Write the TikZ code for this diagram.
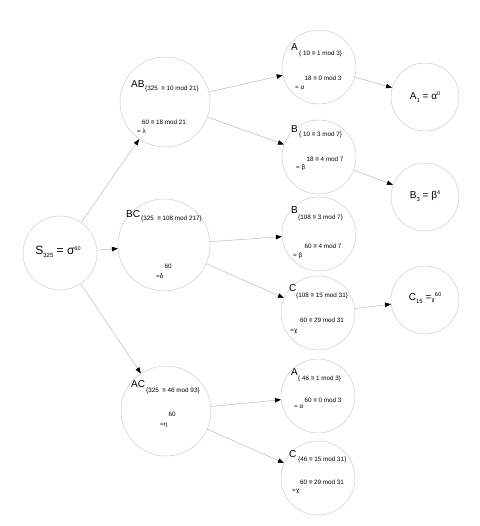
\documentclass[tikz,border=0pt]{standalone}
\usepackage{fontspec}
\setmainfont{Liberation Sans}
\newfontfamily\dvfont{DejaVu Sans}
\usetikzlibrary{arrows.meta}
\definecolor{circgray}{HTML}{CCCCCC}
\definecolor{linegray}{HTML}{BBBBBB}
\newcommand{\sbx}[1]{\raisebox{-2.5pt}{\fontsize{6}{6}\selectfont #1}}
\newcommand{\spx}[1]{\raisebox{4pt}{\fontsize{5.5}{5.5}\selectfont #1}}
\begin{document}
\begin{tikzpicture}[x=1pt,y=-1pt,
  circ/.style={circle,draw=circgray,line width=0.5pt,inner sep=0pt,minimum size=#1},
  edge/.style={draw=linegray,line width=0.5pt,-{Triangle[length=6pt,width=4.5pt,color=black]}},
  big/.style={font=\fontsize{10}{10}\selectfont,inner sep=0pt,anchor=west},
  sub/.style={font=\fontsize{6.3}{7}\selectfont,inner sep=0pt,anchor=west},
  small/.style={font=\fontsize{6.3}{7}\selectfont,inner sep=0pt},
  lbl/.style={font=\fontsize{11}{11}\selectfont,inner sep=0pt},
]
\useasboundingbox (0,0) rectangle (479,526);
% circles
\node[circ=74pt] (S) at (60,253) {};
\node[circ=90pt] (AB) at (165,102) {};
\node[circ=92pt] (BC) at (164,245) {};
\node[circ=90pt] (AC) at (166,411) {};
\node[circ=74pt] (A1) at (319,67) {};
\node[circ=74pt] (B1) at (319,157) {};
\node[circ=74pt] (B2) at (319,234) {};
\node[circ=74pt] (C2) at (318,313) {};
\node[circ=74pt] (A3) at (318,396) {};
\node[circ=74pt] (C3) at (318,478) {};
\node[circ=68pt] (FA) at (425,97) {};
\node[circ=68pt] (FB) at (425,197) {};
\node[circ=68pt] (FC) at (425,300) {};
% edges
\draw[edge] (S) -- (AB);
\draw[edge] (S) -- (BC);
\draw[edge] (S) -- (AC);
\draw[edge] (AB) -- (A1);
\draw[edge] (AB) -- (B1);
\draw[edge] (BC) -- (B2);
\draw[edge] (BC) -- (C2);
\draw[edge] (AC) -- (A3);
\draw[edge] (AC) -- (C3);
\draw[edge] (A1) -- (FA);
\draw[edge] (B1) -- (FB);
\draw[edge] (C2) -- (FC);
% S text
\node[lbl,font=\fontsize{12}{12}\selectfont] (tS) at (58,252) {S\sbx{325} = σ\spx{60}};
% AB
\node[big] (tAB) at (131,84) {AB};
\node[sub] (sAB) at (145,89) {\{325 \ ≡ 10 mod 21\}};
\node[small] (lAB1) at (164,122) {60 ≡ 18 mod 21};
\node[small,anchor=west] (lAB2) at (137,131) {= λ};
% BC
\node[big] (tBC) at (126,214) {BC};
\node[sub] (sBC) at (141,219) {\{325 \ ≡ 108 mod 217\}};
\node[small] (lBC1) at (168,266) {60};
\node[small,anchor=west] (lBC2) at (156,276) {=δ};
% AC
\node[big] (tAC) at (131,384) {AC};
\node[sub] (sAC) at (146,391) {\{325 \ ≡ 46 mod 93\}};
\node[small] (lAC1) at (172,414) {60};
\node[small,anchor=west] (lAC2) at (160,425) {=η};
% A top
\node[big] (tA1) at (291,47) {A};
\node[sub] (sA1) at (299,54) {\{ 10 ≡ 1 mod 3\}};
\node[small] (lA11) at (323,78) {18 ≡ 0 mod 3};
\node[small,anchor=west] (lA12) at (295,88) {= α};
% B top
\node[big] (tB1) at (291,129) {B};
\node[sub] (sB1) at (299,135) {\{ 10 ≡ 3 mod 7\}};
\node[small] (lB11) at (325,159) {18 ≡ 4 mod 7};
\node[small,anchor=west] (lB12) at (296,168) {= β};
% B of BC
\node[big] (tB2) at (291,210) {B};
\node[sub] (sB2) at (298,218) {\{108 ≡ 3 mod 7\}};
\node[small] (lB21) at (323,246) {60 ≡ 4 mod 7};
\node[small,anchor=west] (lB22) at (293,256) {= β};
% C of BC
\node[big] (tC2) at (289,288) {C};
\node[sub] (sC2) at (296,296) {\{108 ≡ 15 mod 31\}};
\node[small] (lC21) at (322,320) {60 ≡ 29 mod 31};
\node[small,anchor=west] (lC22) at (290,331) {=\dvfont ɣ};
% A of AC
\node[big] (tA3) at (291,372) {A};
\node[sub] (sA3) at (298,379) {\{ 46 ≡ 1 mod 3\}};
\node[small] (lA31) at (323,400) {60 ≡ 0 mod 3};
\node[small,anchor=west] (lA32) at (294,407) {= α};
% C of AC
\node[big] (tC3) at (289,454) {C};
\node[sub] (sC3) at (298,460) {\{46 ≡ 15 mod 31\}};
\node[small] (lC31) at (322,482) {60 ≡ 29 mod 31};
\node[small,anchor=west] (lC32) at (292,491) {=\dvfont ɣ};
% finals
\node[lbl,font=\fontsize{10}{10}\selectfont] (tFA) at (425,97) {A\sbx{1} = α\spx{0}};
\node[lbl,font=\fontsize{10}{10}\selectfont] (tFB) at (425,196) {B\sbx{3} = β\spx{4}};
\node[lbl,font=\fontsize{10}{10}\selectfont] (tFC) at (425,298) {C\sbx{15} =\raisebox{-1pt}{\fontsize{6}{6}\dvfont ɣ}\spx{60}};
\end{tikzpicture}
\end{document}
